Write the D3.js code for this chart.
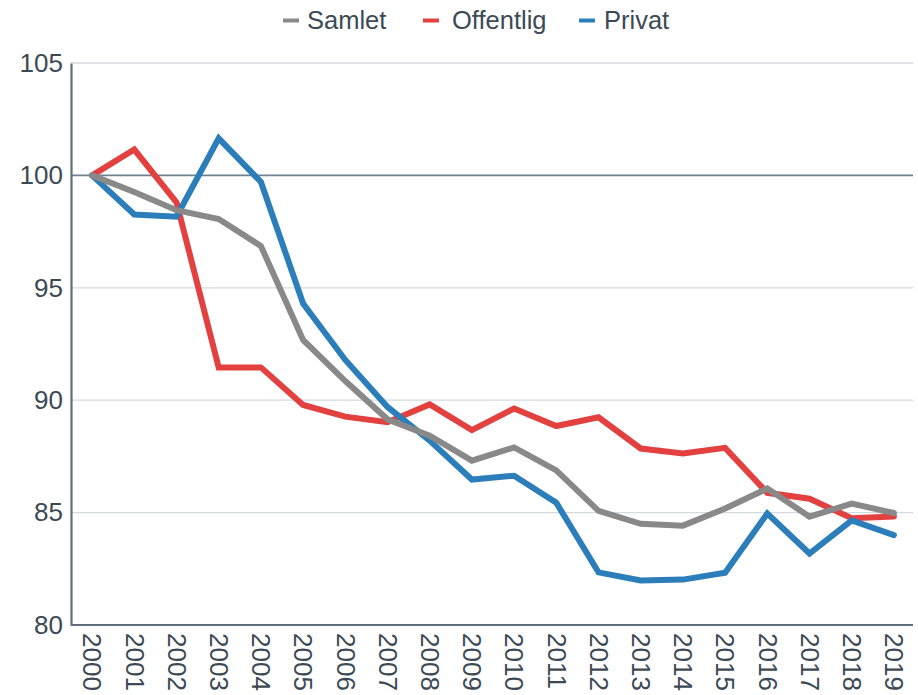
<!DOCTYPE html>
<html>
<head>
<meta charset="utf-8">
<script src="https://cdn.jsdelivr.net/npm/d3@7"></script>
<style>
  html, body { margin: 0; padding: 0; background: #fff; }
  svg { display: block; font-family: "Liberation Sans", Arial, Helvetica, sans-serif; }
</style>
</head>
<body>
<svg id="chart" width="918" height="695"></svg>
<script>
const years = ["2000","2001","2002","2003","2004","2005","2006","2007","2008","2009",
               "2010","2011","2012","2013","2014","2015","2016","2017","2018","2019"];
const samlet    = [100, 99.26, 98.45, 98.06, 96.86, 92.68, 90.85, 89.15, 88.42, 87.31,
                   87.9, 86.88, 85.08, 84.5, 84.42, 85.18, 86.07, 84.82, 85.4, 84.98];
const offentlig = [100, 101.15, 98.8, 91.46, 91.46, 89.79, 89.27, 89.02, 89.81, 88.67,
                   89.63, 88.85, 89.24, 87.85, 87.63, 87.88, 85.88, 85.62, 84.75, 84.83];
const privat    = [100, 98.26, 98.16, 101.65, 99.71, 94.3, 91.79, 89.7, 88.2, 86.47,
                   86.64, 85.44, 82.34, 81.98, 82.02, 82.33, 84.96, 83.18, 84.65, 84.0];
const yTicks = [80, 85, 90, 95, 100, 105];
const seriesNames = ["Samlet", "Offentlig", "Privat"];
const seriesColors = ["#898989", "#e34140", "#2b7eb9"];

(function () {
const svg = d3.select("#chart");
const mLeft = 71, mRight = 915, mTop = 63, mBottom = 625, gridRight = 913;

const x = d3.scalePoint().domain(years).range([mLeft, mRight]).padding(0.5);
const y = d3.scaleLinear().domain([80, 105]).range([mBottom, mTop]);

// gridlines
svg.append("g").selectAll("line").data(yTicks.filter(t => t !== 80)).join("line")
  .attr("x1", mLeft).attr("x2", gridRight)
  .attr("y1", d => y(d)).attr("y2", d => y(d))
  .attr("stroke", d => d === 100 ? "#6f8290" : "#d5dadf")
  .attr("stroke-width", d => d === 100 ? 1.6 : 1.3);

// y axis
const yAxis = svg.append("g").attr("transform", `translate(${mLeft},0)`)
  .call(d3.axisLeft(y).tickValues(yTicks).tickSize(0).tickPadding(8));
yAxis.select(".domain").attr("stroke", "#5f6f7b").attr("stroke-width", 2.2);
yAxis.selectAll("text").attr("font-size", 26).attr("fill", "#3c4a55")
  .attr("font-family", "Liberation Sans, Arial, sans-serif");

// x axis
const xAxis = svg.append("g").attr("transform", `translate(0,${mBottom})`)
  .call(d3.axisBottom(x).tickSize(0));
xAxis.select(".domain").attr("stroke", "#5f6f7b").attr("stroke-width", 2.2)
  .attr("d", `M${mLeft},0H${gridRight}`);
xAxis.selectAll("text")
  .attr("font-size", 26).attr("fill", "#3c4a55")
  .attr("font-family", "Liberation Sans, Arial, sans-serif")
  .attr("text-anchor", "start")
  .attr("dy", "0.35em")
  .attr("transform", "translate(0,8) rotate(90)")
  .attr("x", 0).attr("y", 0);

// lines
const line = d3.line().x((d, i) => x(years[i])).y(d => y(d));
const allSeries = [samlet, offentlig, privat];
const drawOrder = [1, 2, 0];
svg.append("g").selectAll("path").data(drawOrder).join("path")
  .attr("d", k => line(allSeries[k]))
  .attr("fill", "none")
  .attr("stroke", k => seriesColors[k])
  .attr("stroke-width", 6)
  .attr("stroke-linejoin", "miter")
  .attr("stroke-linecap", "round");

// legend
const legendItems = [
  {name: seriesNames[0], color: seriesColors[0], mx: 283, tx: 307},
  {name: seriesNames[1], color: seriesColors[1], mx: 423, tx: 452},
  {name: seriesNames[2], color: seriesColors[2], mx: 579, tx: 604}
];
const lg = svg.append("g");
legendItems.forEach(it => {
  lg.append("line").attr("x1", it.mx).attr("x2", it.mx + 16)
    .attr("y1", 20.5).attr("y2", 20.5)
    .attr("stroke", it.color).attr("stroke-width", 4);
  lg.append("text").attr("x", it.tx).attr("y", 20.5).attr("dy", "0.35em")
    .attr("font-size", 25.5).attr("fill", "#3c4a55")
    .text(it.name);
});
})();
</script>
</body>
</html>
